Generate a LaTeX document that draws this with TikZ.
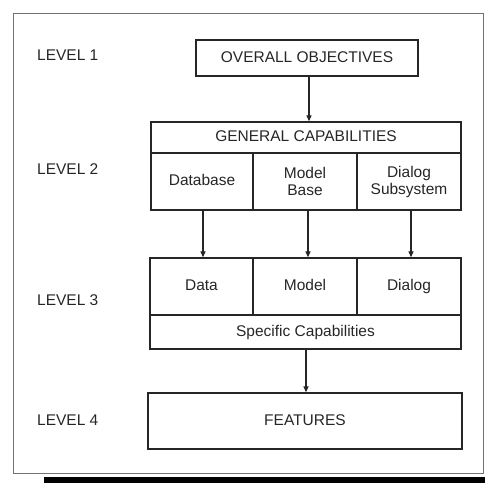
\documentclass[tikz,border=0pt]{standalone}
\usepackage{fontspec}
\setmainfont{Liberation Sans}
\usetikzlibrary{arrows.meta}
\begin{document}
\begin{tikzpicture}[x=1pt,y=-1pt,
  every node/.style={font=\fontsize{15.5}{17}\selectfont, text=black!85, inner sep=0pt},
  cell/.style={draw=black!85, line width=1.3pt, rectangle, align=center},
  oneline/.style={text height=11.5pt, text depth=3.5pt},
  lvl/.style={anchor=west},
  link/.style={draw=black!85, line width=1.2pt, -{Triangle[length=6pt,width=5pt]}},
  frame/.style={draw=black!55, line width=1pt}]
\useasboundingbox (0,0) rectangle (485,483);
% outer frame and its shadow bar
\draw[frame] (13,13) rectangle (483,473);
\fill[black] (44,477) rectangle (485,483);

% level labels
\node[lvl] (l1) at (37,55) {LEVEL 1};
\node[lvl] (l2) at (37,169) {LEVEL 2};
\node[lvl] (l3) at (37,300) {LEVEL 3};
\node[lvl] (l4) at (37,420) {LEVEL 4};

% level 1
\node[cell, oneline, minimum width=222pt, minimum height=36pt] (obj) at (307,58) {OVERALL OBJECTIVES};

% level 2
\node[cell, oneline, minimum width=310pt, minimum height=31pt] (gen) at (306,137.5) {GENERAL CAPABILITIES};
\node[cell, oneline, minimum width=102pt, minimum height=57pt] (db) at (202,181.5) {Database};
\node[cell, minimum width=104pt, minimum height=57pt] (mb) at (305,181.5) {Model\\Base};
\node[cell, minimum width=104pt, minimum height=57pt] (ds) at (409,181.5) {Dialog\\Subsystem};

% level 3
\node[cell, oneline, minimum width=103pt, minimum height=57pt] (data) at (201.5,286.5) {Data};
\node[cell, oneline, minimum width=104pt, minimum height=57pt] (model) at (305,286.5) {Model};
\node[cell, oneline, minimum width=104pt, minimum height=57pt] (dialog) at (409,286.5) {Dialog};
\node[cell, oneline, minimum width=311pt, minimum height=34pt] (spec) at (305.5,332) {Specific Capabilities};

% level 4
\node[cell, oneline, minimum width=314pt, minimum height=56pt] (feat) at (305,421) {FEATURES};

% connectors
\draw[link] ([xshift=2pt]obj.south) -- ([xshift=2pt]obj.south |- gen.north);
\draw[link] ([xshift=1pt]db.south) -- ([xshift=1pt]db.south |- data.north);
\draw[link] ([xshift=3pt]mb.south) -- ([xshift=3pt]mb.south |- model.north);
\draw[link] ([xshift=2pt]ds.south) -- ([xshift=2pt]ds.south |- dialog.north);
\draw[link] ([xshift=0.5pt]spec.south) -- ([xshift=0.5pt]spec.south |- feat.north);
\end{tikzpicture}
\end{document}
